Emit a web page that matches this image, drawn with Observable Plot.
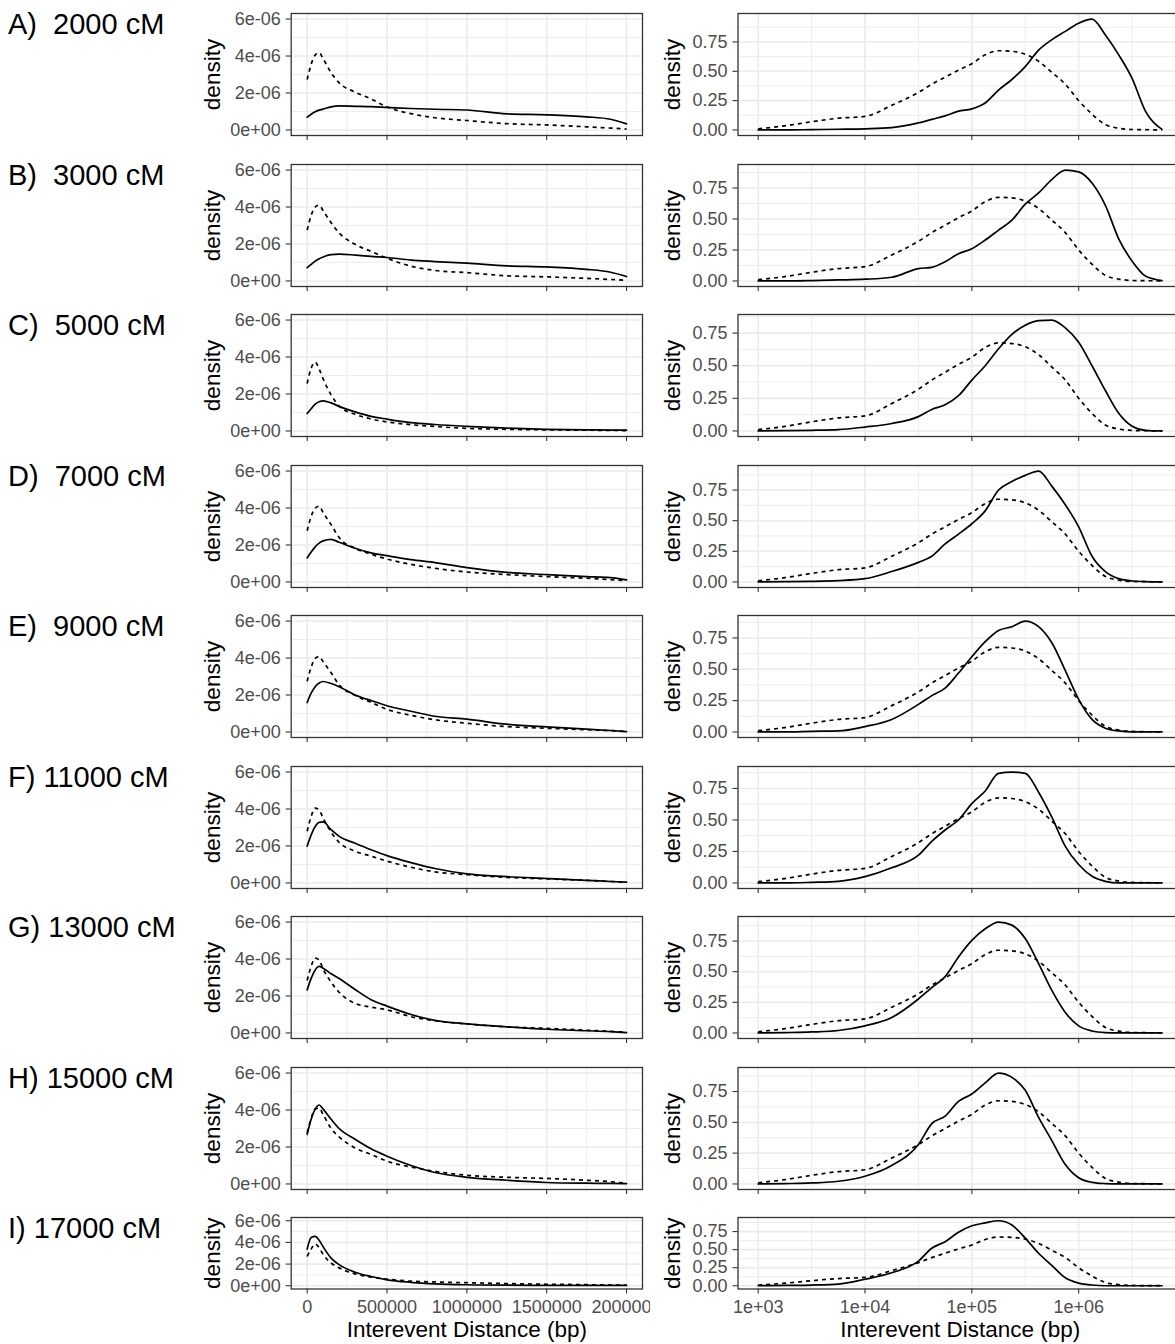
<!DOCTYPE html>
<html><head><meta charset="utf-8">
<script src="https://cdn.jsdelivr.net/npm/d3@7"></script>
<script src="https://cdn.jsdelivr.net/npm/@observablehq/plot@0.6"></script>
<style>
html,body{margin:0;padding:0;background:#fff;}
#fig{position:relative;width:1175px;height:1344px;overflow:hidden;background:#fff;font-family:'Liberation Sans',Arial,Helvetica,sans-serif;}
.rowlab{position:absolute;left:8px;font-size:29px;line-height:29px;color:#000;white-space:pre;}
</style></head><body><div id="fig"></div>
<script>
// ---------- data ----------
const rowLabels = ["A)  2000 cM","B)  3000 cM","C)  5000 cM","D)  7000 cM","E)  9000 cM","F) 11000 cM","G) 13000 cM","H) 15000 cM","I) 17000 cM"];

// left column: interevent distance (bp), linear axis
const linX = [0, 25000, 50000, 75000, 100000, 150000, 200000, 300000, 400000, 500000, 650000, 800000, 1000000, 1250000, 1500000, 1750000, 1900000, 2000000];
// density x 1e-6
const linSolid = [
  [0.69, 0.85, 0.98, 1.07, 1.13, 1.25, 1.3, 1.28, 1.26, 1.22, 1.16, 1.12, 1.08, 0.87, 0.82, 0.71, 0.58, 0.33],
  [0.72, 0.9, 1.07, 1.2, 1.3, 1.42, 1.45, 1.4, 1.33, 1.27, 1.13, 1.05, 0.96, 0.82, 0.76, 0.63, 0.47, 0.24],
  [0.94, 1.2, 1.45, 1.58, 1.63, 1.52, 1.33, 1.03, 0.79, 0.64, 0.45, 0.35, 0.25, 0.15, 0.09, 0.06, 0.05, 0.04],
  [1.3, 1.62, 1.9, 2.1, 2.22, 2.3, 2.15, 1.82, 1.57, 1.42, 1.21, 1.05, 0.78, 0.52, 0.4, 0.29, 0.23, 0.11],
  [1.59, 2.1, 2.45, 2.65, 2.73, 2.62, 2.45, 2.0, 1.7, 1.42, 1.12, 0.85, 0.69, 0.42, 0.27, 0.15, 0.08, 0.02],
  [1.99, 2.6, 3.05, 3.28, 3.3, 2.88, 2.52, 2.15, 1.8, 1.48, 1.1, 0.78, 0.49, 0.34, 0.24, 0.14, 0.08, 0.04],
  [2.33, 2.95, 3.4, 3.6, 3.5, 3.2, 2.95, 2.35, 1.8, 1.45, 1.0, 0.68, 0.49, 0.33, 0.2, 0.12, 0.07, 0.02],
  [2.68, 3.5, 4.05, 4.27, 4.05, 3.5, 3.0, 2.42, 1.9, 1.5, 1.0, 0.62, 0.36, 0.2, 0.08, 0.04, 0.03, 0.02],
  [3.38, 4.45, 4.55, 4.2, 3.6, 2.55, 1.95, 1.25, 0.85, 0.55, 0.32, 0.18, 0.09, 0.05, 0.04, 0.03, 0.03, 0.03]
];
const linDashed = [
  [2.73, 3.55, 4.05, 4.18, 3.85, 3.1, 2.55, 2.05, 1.68, 1.24, 0.88, 0.66, 0.51, 0.34, 0.27, 0.17, 0.1, 0.05],
  [2.75, 3.55, 4.0, 4.1, 3.8, 3.15, 2.6, 1.98, 1.6, 1.23, 0.8, 0.57, 0.45, 0.28, 0.22, 0.14, 0.08, 0.04],
  [2.57, 3.4, 3.72, 3.35, 2.82, 1.95, 1.35, 0.9, 0.65, 0.49, 0.34, 0.24, 0.14, 0.09, 0.06, 0.04, 0.03, 0.02],
  [2.77, 3.55, 4.0, 4.1, 3.75, 3.1, 2.4, 1.82, 1.5, 1.24, 0.95, 0.74, 0.54, 0.4, 0.29, 0.2, 0.13, 0.07],
  [2.74, 3.5, 3.98, 4.08, 3.8, 3.2, 2.55, 1.98, 1.6, 1.22, 0.9, 0.66, 0.47, 0.29, 0.2, 0.12, 0.07, 0.02],
  [2.8, 3.6, 4.05, 3.95, 3.5, 2.75, 2.2, 1.72, 1.45, 1.18, 0.85, 0.6, 0.45, 0.3, 0.22, 0.14, 0.08, 0.04],
  [2.84, 3.6, 4.05, 3.95, 3.45, 2.75, 2.2, 1.6, 1.4, 1.25, 0.88, 0.66, 0.49, 0.33, 0.25, 0.15, 0.09, 0.04],
  [2.77, 3.55, 4.05, 4.1, 3.75, 3.0, 2.55, 1.95, 1.6, 1.23, 0.92, 0.68, 0.47, 0.36, 0.3, 0.2, 0.12, 0.04],
  [2.7, 3.4, 3.85, 3.5, 2.9, 2.1, 1.65, 1.1, 0.8, 0.62, 0.42, 0.35, 0.28, 0.2, 0.14, 0.1, 0.07, 0.06]
];
const linXTicks = [0, 500000, 1000000, 1500000, 2000000];
const linXMinor = [250000, 750000, 1250000, 1750000];
const linYTicks = [0, 2e-6, 4e-6, 6e-6];
const linYMinor = [1e-6, 3e-6, 5e-6];

// right column: log10 of interevent distance (bp)
const logX = [3, 3.25, 3.5, 3.75, 4, 4.25, 4.5, 4.625, 4.75, 4.875, 5, 5.125, 5.25, 5.375, 5.5, 5.625, 5.75, 5.875, 6, 6.125, 6.25, 6.375, 6.5, 6.625, 6.78];
const logDashed = [0.01, 0.035, 0.07, 0.1, 0.115, 0.21, 0.32, 0.39, 0.45, 0.51, 0.565, 0.64, 0.675, 0.67, 0.645, 0.585, 0.49, 0.39, 0.25, 0.135, 0.045, 0.015, 0.004, 0.002, 0.001];
const logSolid = [
  [0, 0, 0.003, 0.006, 0.01, 0.02, 0.06, 0.09, 0.12, 0.16, 0.18, 0.23, 0.34, 0.43, 0.54, 0.68, 0.77, 0.84, 0.91, 0.945, 0.81, 0.64, 0.44, 0.16, 0.005],
  [0, 0, 0.003, 0.008, 0.014, 0.03, 0.1, 0.11, 0.155, 0.22, 0.26, 0.33, 0.41, 0.49, 0.62, 0.71, 0.82, 0.895, 0.88, 0.79, 0.61, 0.34, 0.16, 0.04, 0.003],
  [0, 0.003, 0.005, 0.01, 0.03, 0.057, 0.11, 0.165, 0.2, 0.27, 0.39, 0.5, 0.63, 0.74, 0.81, 0.845, 0.85, 0.79, 0.68, 0.5, 0.31, 0.135, 0.036, 0.005, 0],
  [0, 0.003, 0.005, 0.011, 0.027, 0.085, 0.16, 0.21, 0.31, 0.39, 0.475, 0.58, 0.75, 0.82, 0.87, 0.905, 0.78, 0.63, 0.45, 0.21, 0.085, 0.027, 0.008, 0.003, 0],
  [0, 0, 0.005, 0.008, 0.043, 0.1, 0.22, 0.29, 0.35, 0.47, 0.6, 0.72, 0.81, 0.84, 0.885, 0.84, 0.71, 0.49, 0.26, 0.1, 0.03, 0.008, 0, 0, 0],
  [0, 0, 0.005, 0.013, 0.05, 0.12, 0.22, 0.33, 0.42, 0.5, 0.63, 0.73, 0.87, 0.88, 0.87, 0.72, 0.52, 0.29, 0.146, 0.053, 0.013, 0, 0, 0, 0],
  [0, 0.003, 0.008, 0.02, 0.058, 0.126, 0.277, 0.37, 0.46, 0.62, 0.755, 0.85, 0.905, 0.88, 0.77, 0.565, 0.345, 0.167, 0.058, 0.016, 0.003, 0, 0, 0, 0],
  [0, 0.003, 0.008, 0.022, 0.063, 0.15, 0.32, 0.49, 0.55, 0.67, 0.73, 0.82, 0.9, 0.865, 0.76, 0.54, 0.35, 0.158, 0.05, 0.013, 0.003, 0, 0, 0, 0],
  [0, 0.005, 0.01, 0.023, 0.09, 0.18, 0.34, 0.52, 0.61, 0.74, 0.83, 0.87, 0.9, 0.84, 0.66, 0.45, 0.28, 0.11, 0.036, 0.01, 0, 0, 0, 0, 0]
];
const logXTicks = [1e3, 1e4, 1e5, 1e6];
const logXMinor = [10 ** 3.5, 10 ** 4.5, 10 ** 5.5, 10 ** 6.5];
const logYTicks = [0, 0.25, 0.5, 0.75];
const logYMinor = [0.125, 0.375, 0.625, 0.875];

const xTitle = "Interevent Distance (bp)";
const yTitle = "density";

// ---------- drawing ----------
const FONT = "'Liberation Sans', Arial, Helvetica, sans-serif";
const GRID = "#EBEBEB", INK = "#333333", TICKTXT = "#4D4D4D";
const fig = document.getElementById("fig");
const expFmt = d => d.toExponential(0).replace(/e([+-])(\d)$/, "e$10$2");

function place(el, left, top) {
  el.style.position = "absolute";
  el.style.left = left + "px";
  el.style.top = top + "px";
  fig.appendChild(el);
}

function grids(xMinor, yMinor, xMajor, yMajor) {
  return [
    Plot.gridX(xMinor, {stroke: GRID, strokeOpacity: 1, strokeWidth: 0.9}),
    Plot.gridY(yMinor, {stroke: GRID, strokeOpacity: 1, strokeWidth: 0.9}),
    Plot.gridX(xMajor, {stroke: GRID, strokeOpacity: 1, strokeWidth: 1.6}),
    Plot.gridY(yMajor, {stroke: GRID, strokeOpacity: 1, strokeWidth: 1.6})
  ];
}
function curves(rows) {
  return [
    Plot.line(rows, {x: "x", y: "dashed", curve: "monotone-x", stroke: "#000", strokeWidth: 1.7, strokeDasharray: "4,4", strokeLinecap: "butt"}),
    Plot.line(rows, {x: "x", y: "solid", curve: "monotone-x", stroke: "#000", strokeWidth: 1.7})
  ];
}
function axes(xTicks, yTicks, xFmt, yFmt, last, yLabelOffset, xLabelOffset) {
  return [
    Plot.frame({stroke: INK, strokeWidth: 1.3}),
    Plot.axisX(xTicks, {tickSize: 5, tickPadding: 6, stroke: INK, strokeWidth: 1.1, fill: TICKTXT, fontSize: 18, tickFormat: last ? xFmt : () => "", label: null}),
    Plot.axisY(yTicks, {tickSize: 5, tickPadding: 5.5, stroke: INK, strokeWidth: 1.1, fill: TICKTXT, fontSize: 18, tickFormat: yFmt, label: null}),
    Plot.axisY([], {tickSize: 0, label: yTitle, labelAnchor: "center", labelArrow: "none", labelOffset: yLabelOffset, fontSize: 22.5, fill: "#000"}),
    last ? Plot.axisX([], {tickSize: 0, label: xTitle, labelAnchor: "center", labelArrow: "none", labelOffset: xLabelOffset, fontSize: 22.5, fill: "#000"}) : null
  ];
}

const firstTop = 13, rowStep = 150.5;
rowLabels.forEach((lab, r) => {
  const top = firstTop + r * rowStep;
  const last = r === rowLabels.length - 1;
  const panelH = last ? 71.5 : 122;
  const mTop = 10;
  const mBot = last ? 1344 - (top - mTop) - mTop - panelH : 18;
  const H = mTop + panelH + mBot;

  // row label
  const div = document.createElement("div");
  div.className = "rowlab";
  div.textContent = lab;
  div.style.top = (top - 3) + "px";
  fig.appendChild(div);

  // left panel
  const linRows = linX.map((x, i) => ({x, solid: linSolid[r][i] * 1e-6, dashed: linDashed[r][i] * 1e-6}));
  const left = Plot.plot({
    width: 460, height: H,
    marginLeft: 100.7, marginRight: 8, marginTop: mTop, marginBottom: mBot,
    style: {fontFamily: FONT, background: "#fff"},
    x: {type: "linear", domain: [-100000, 2100000]},
    y: {type: "linear", domain: [-0.3e-6, 6.3e-6]},
    marks: [
      ...grids(linXMinor, linYMinor, linXTicks, linYTicks),
      ...curves(linRows),
      ...axes(linXTicks, linYTicks, d => String(d), expFmt, last, 87, 48)
    ]
  });
  place(left, 190, top - mTop);

  // right panel
  const logRows = logX.map((L, i) => ({x: 10 ** L, solid: logSolid[r][i], dashed: logDashed[i]}));
  const m = Math.max(d3.max(logSolid[r]), d3.max(logDashed));
  const right = Plot.plot({
    width: 532, height: H,
    marginLeft: 87.5, marginRight: 0, marginTop: mTop, marginBottom: mBot,
    style: {fontFamily: FONT, background: "#fff"},
    x: {type: "log", domain: [10 ** 2.811, 10 ** 6.972]},
    y: {type: "linear", domain: [-0.05 * m, 1.05 * m]},
    marks: [
      ...grids(logXMinor, logYMinor.filter(v => v < 1.05 * m), logXTicks, logYTicks),
      ...curves(logRows),
      ...axes(logXTicks, logYTicks, d => expFmt(d), d3.format(".2f"), last, 74, 48)
    ]
  });
  place(right, 650, top - mTop);
});
</script>
</body></html>
